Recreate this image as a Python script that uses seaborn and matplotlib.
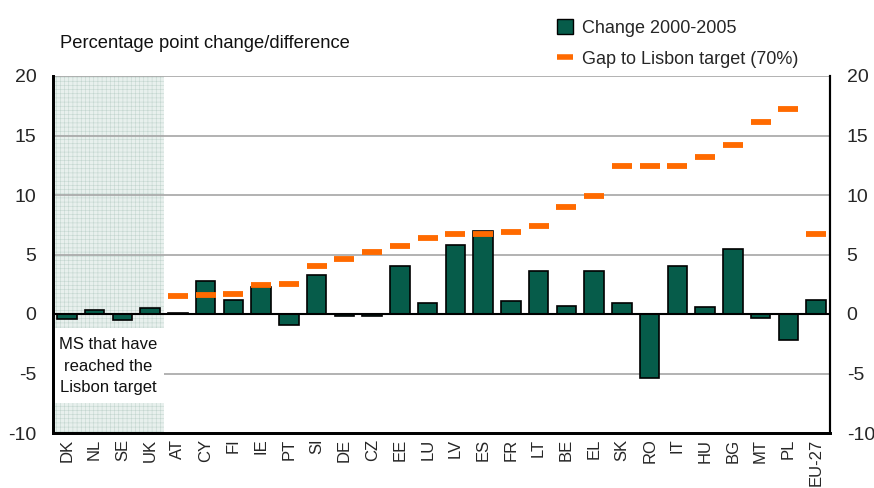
import matplotlib
matplotlib.use("Agg")
import matplotlib.pyplot as plt
import seaborn as sns
import numpy as np
import pandas as pd
from matplotlib.patches import Patch, Rectangle
from matplotlib.lines import Line2D

countries = ["DK", "NL", "SE", "UK", "AT", "CY", "FI", "IE", "PT", "SI", "DE", "CZ",
             "EE", "LU", "LV", "ES", "FR", "LT", "BE", "EL", "SK", "RO", "IT", "HU",
             "BG", "MT", "PL", "EU-27"]
change_2000_2005 = [-0.4, 0.3, -0.5, 0.5, 0.1, 2.8, 1.2, 2.3, -0.9, 3.3, -0.2, -0.2,
                    4.0, 0.9, 5.8, 7.0, 1.1, 3.6, 0.7, 3.6, 0.9, -5.4, 4.0, 0.6,
                    5.5, -0.3, -2.2, 1.2]
gap_to_target = [np.nan, np.nan, np.nan, np.nan, 1.5, 1.6, 1.7, 2.4, 2.5, 4.0, 4.6, 5.2,
                 5.7, 6.4, 6.7, 6.7, 6.9, 7.4, 9.0, 9.9, 12.4, 12.4, 12.4, 13.2,
                 14.2, 16.1, 17.2, 6.7]
y_ticks = [-10, -5, 0, 5, 10, 15, 20]

df = pd.DataFrame({"country": countries, "change": change_2000_2005, "gap": gap_to_target})

sns.set_theme(style="white")
plt.rcParams["font.family"] = ["Liberation Sans", "DejaVu Sans"]
plt.rcParams["hatch.linewidth"] = 0.4
plt.rcParams["hatch.color"] = "#c3d6cf"

GREEN = "#065C4A"
ORANGE = "#FF6A00"

fig = plt.figure(figsize=(8.74, 4.88), dpi=100)
ax = fig.add_axes([53/874, 1-433/488, (830-53)/874, (433-76)/488])

# shaded region for MS that reached target
ax.axvspan(-0.5, 3.5, facecolor="#e8f0ed", hatch="++++", edgecolor="#c3d6cf", lw=0, zorder=0)

for v in [-5, 5, 10, 15, 20]:
    ax.axhline(v, color="#a6a6a6", lw=1.2, zorder=1)

ax.add_patch(Rectangle((-0.5, -7.5), 4, 6.3, facecolor="white", edgecolor="none", zorder=1.5))
ax.text(1.5, -4.4, "MS that have\nreached the\nLisbon target", ha="center", va="center",
        fontsize=12, linespacing=1.55, color="#111111", zorder=2)

sns.barplot(data=df, x="country", y="change", order=countries, color=GREEN,
            edgecolor="black", linewidth=1.2, width=0.7, saturation=1, ax=ax, zorder=3)
sns.pointplot(data=df, x="country", y="gap", order=countries, color=ORANGE,
              linestyle="none", marker="_", markersize=14.5, markeredgewidth=4.2,
              errorbar=None, ax=ax, zorder=4)

ax.axhline(0, color="black", lw=1.5, zorder=3.5)

ax.set_xlim(-0.5, len(countries) - 0.5)
ax.set_ylim(-10, 20)
ax.set_yticks(y_ticks)
ax.set_yticklabels([str(t) for t in y_ticks], fontsize=14)
ax.set_xticks(range(len(countries)))
ax.set_xticklabels(countries, rotation=90, fontsize=12)
ax.set_xlabel("")
ax.set_ylabel("")
ax.tick_params(axis="y", length=0, pad=12)
ax.tick_params(axis="x", length=0, pad=4)

ax2 = ax.twinx()
ax2.set_ylim(-10, 20)
ax2.set_yticks(y_ticks)
ax2.set_yticklabels([str(t) for t in y_ticks], fontsize=14)
ax2.tick_params(axis="y", length=0, pad=12)

for a in (ax, ax2):
    a.spines["top"].set_visible(False)
    a.spines["left"].set_color("black")
    a.spines["left"].set_linewidth(2)
    a.spines["bottom"].set_color("black")
    a.spines["bottom"].set_linewidth(2)
    a.spines["right"].set_color("black")
    a.spines["right"].set_linewidth(1.5)

fig.text(60/874, 1-43/488, "Percentage point change/difference", fontsize=13.2,
         ha="left", va="center", color="#111111")

handles = [Patch(facecolor=GREEN, edgecolor="black", linewidth=1.0),
           Line2D([0], [0], color=ORANGE, lw=4, solid_capstyle="butt")]
fig.legend(handles, ["Change 2000-2005", "Gap to Lisbon target (70%)"],
           loc="upper left", bbox_to_anchor=(550/874, 1-12/488), frameon=False,
           fontsize=13, handlelength=0.9, handleheight=0.9, handletextpad=0.5,
           labelspacing=0.75, borderaxespad=0)

fig.savefig("out.png", dpi=100)
